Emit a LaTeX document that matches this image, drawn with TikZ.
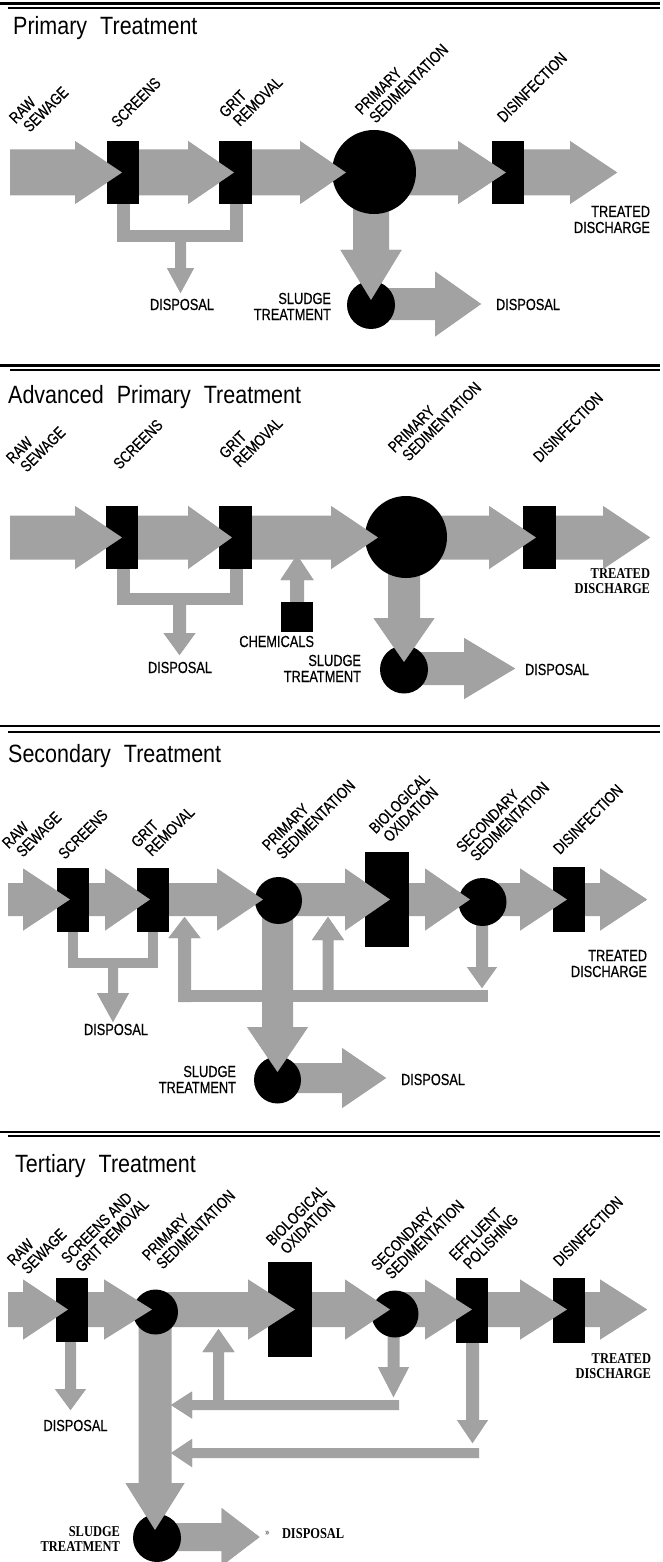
\documentclass[tikz,border=0pt]{standalone}
\usepackage{fontspec}
\setmainfont{Liberation Sans}
\newfontfamily\labf[FakeStretch=0.8,FakeBold=0.5]{Liberation Sans}
\newfontfamily\ttlf[FakeStretch=0.86]{Liberation Sans}
\newfontfamily\serf[FakeStretch=0.83]{Liberation Serif}
\pgfdeclarelayer{bg}
\pgfdeclarelayer{back}
\pgfdeclarelayer{front}
\pgfsetlayers{bg,back,main,front}
\definecolor{flowgray}{RGB}{162,162,162}
\tikzset{
  blk/.style={fill=black, draw=none, inner sep=0pt, outer sep=0pt, rectangle},
  tank/.style={fill=black, draw=none, circle, inner sep=0pt, outer sep=0pt},
  flow/.style={fill=flowgray, draw=none},
  lab/.style={font=\labf\fontsize{16}{16}\selectfont, inner sep=0pt, outer sep=0pt},
  rlab/.style={lab, rotate=45, anchor=base west},
  rlabtwo/.style={lab, rotate=45, anchor=south west, align=left},
  serlab/.style={font=\serf\bfseries\fontsize{15}{15}\selectfont, inner sep=0pt, outer sep=0pt},
  ttl/.style={font=\ttlf\fontsize{25}{25}\selectfont, anchor=base west, inner sep=0pt},
  septhick/.style={line width=2.6pt},
  septhin/.style={line width=1.2pt},
}
% horizontal fat arrow: x0, head base, tip, yc, shaft half, head half
\newcommand\fatH[6]{%
  \begin{pgfonlayer}{back}
  \fill[flow] (#1,#4-#5) -- (#2,#4-#5) -- (#2,#4-#6) -- (#3,#4) -- (#2,#4+#6) -- (#2,#4+#5) -- (#1,#4+#5) -- cycle;
  \end{pgfonlayer}
  \begin{pgfonlayer}{front}
  \fill[flow] (#2,#4-#6) -- (#3,#4) -- (#2,#4+#6) -- cycle;
  \end{pgfonlayer}}
% vertical fat arrow: y0, head base, tip, xc, shaft half, head half
\newcommand\fatV[6]{%
  \begin{pgfonlayer}{back}
  \fill[flow] (#4-#5,#1) -- (#4-#5,#2) -- (#4-#6,#2) -- (#4,#3) -- (#4+#6,#2) -- (#4+#5,#2) -- (#4+#5,#1) -- cycle;
  \end{pgfonlayer}
  \begin{pgfonlayer}{front}
  \fill[flow] (#4-#6,#2) -- (#4,#3) -- (#4+#6,#2) -- cycle;
  \end{pgfonlayer}}
\newcommand\flowpipe[4]{%
  \begin{pgfonlayer}{back}
  \fill[flow] (#1,#2) rectangle (#3,#4);
  \end{pgfonlayer}}
\newcommand\rone[4]{\node[rlab] (#1) at (#2,#3) {#4};}
% two-line rotated label; (x,y) = start of the lower line's baseline
\newcommand\rtwo[5]{%
  \node[rlabtwo] (#1) at ({#2-2.8},{#3+2.8}) {#4\\\hspace*{4pt}#5};}
\begin{document}
\begin{tikzpicture}[x=1pt,y=-1pt]
\useasboundingbox (0,0) rectangle (662,1562);
\begin{pgfonlayer}{bg}
\fill[white] (0,0) rectangle (662,1562);
\end{pgfonlayer}

% ---------- separators ----------
\draw[septhick] (0,3.5) -- (660,3.5);
\draw[septhin] (8,8) -- (660,8);
\draw[septhick] (0,365.5) -- (660,365.5);
\draw[septhin] (10,370) -- (660,370);
\draw[septhick] (0,726) -- (660,726);
\draw[septhin] (8,732) -- (660,732);
\draw[septhick] (0,1132) -- (660,1132);
\draw[septhin] (8,1136) -- (660,1136);

% ================= Section 1: Primary =================
\node[ttl] (t1) at (13,35) {Primary\hspace{13pt}Treatment};
\node[blk, minimum width=32pt, minimum height=63pt] (scr1) at (123,172.5) {};
\node[blk, minimum width=33pt, minimum height=63pt] (grt1) at (235.5,172.5) {};
\node[tank, minimum size=84pt] (psd1) at (374,172) {};
\node[blk, minimum width=32pt, minimum height=63pt] (dis1) at (508,172.5) {};
\node[tank, minimum size=48pt] (slg1) at (371,305) {};
\fatH{10}{75}{122}{172.5}{23}{31.5}
\fatH{123}{188}{234}{172.5}{23}{31.5}
\fatH{235}{300}{346}{172.5}{23}{31.5}
\fatH{374}{458}{506}{172.5}{23}{31.5}
\fatH{508}{570}{617}{172.5}{23}{31.5}
\flowpipe{117}{172}{130}{242}
\flowpipe{230}{172}{243}{242}
\flowpipe{117}{230}{243}{242}
\fatV{236}{268}{293}{180.5}{5.5}{13.5}
\fatV{172}{250}{300}{371}{18}{30.5}
\fatH{371}{435}{481}{304}{16}{32.5}
\node[lab, anchor=base] (d1a) at (182,310) {DISPOSAL};
\node[lab, anchor=base west] (d1b) at (496,310) {DISPOSAL};
\node[lab, anchor=base east, align=right] (sl1) at (331,320) {SLUDGE\\TREATMENT};
\node[lab, anchor=base east, align=right] (tr1) at (650,233) {TREATED\\DISCHARGE};
\rtwo{raw1}{30}{133}{RAW}{SEWAGE}
\rone{scrl1}{118}{128}{SCREENS}
\rtwo{grl1}{240}{127}{GRIT}{REMOVAL}
\rtwo{psl1}{376}{124}{PRIMARY}{SEDIMENTATION}
\rone{disl1}{504}{123}{DISINFECTION}

% ================= Section 2: Advanced Primary =================
\node[ttl] (t2) at (8,403) {Advanced\hspace{13pt}Primary\hspace{13pt}Treatment};
\node[blk, minimum width=32pt, minimum height=63pt] (scr2) at (122,537.5) {};
\node[blk, minimum width=33pt, minimum height=63pt] (grt2) at (235,537.5) {};
\node[tank, minimum size=82pt] (psd2) at (406,537) {};
\node[blk, minimum width=33pt, minimum height=63pt] (dis2) at (539.5,537.5) {};
\node[blk, minimum width=32pt, minimum height=30pt] (chm2) at (297,617) {};
\node[tank, minimum size=48pt] (slg2) at (404,669.5) {};
\fatH{10}{75}{122}{537.5}{22}{31.5}
\fatH{122}{188}{232}{537.5}{22}{31.5}
\fatH{235}{331}{378}{537.5}{22}{31.5}
\fatH{406}{489}{536}{537.5}{22}{31.5}
\fatH{539.5}{603}{650}{537.5}{22}{31.5}
\flowpipe{117}{537}{130}{605}
\flowpipe{230}{537}{243}{605}
\flowpipe{117}{593}{243}{605}
\fatV{599}{633}{655}{179.5}{6.5}{16}
\fatV{617}{580}{555}{297}{7}{16.5}
\fatV{537}{618}{662}{404}{16}{30.5}
\fatH{404}{464}{515}{668.5}{16.5}{30.5}
\node[lab, anchor=base] (d2a) at (180,673) {DISPOSAL};
\node[lab, anchor=base west] (d2b) at (525,675) {DISPOSAL};
\node[lab, anchor=base east] (ch2) at (314,647) {CHEMICALS};
\node[lab, anchor=base east, align=right] (sl2) at (361,682) {SLUDGE\\TREATMENT};
\node[serlab, anchor=base east, align=right] (tr2) at (650,593) {TREATED\\DISCHARGE};
\rtwo{raw2}{27}{473}{RAW}{SEWAGE}
\rone{scrl2}{120}{470}{SCREENS}
\rtwo{grl2}{240}{468}{GRIT}{REMOVAL}
\rtwo{psl2}{409}{462}{PRIMARY}{SEDIMENTATION}
\rone{disl2}{540}{463}{DISINFECTION}

% ================= Section 3: Secondary =================
\node[ttl] (t3) at (8,762) {Secondary\hspace{13pt}Treatment};
\node[blk, minimum width=32pt, minimum height=64pt] (scr3) at (73,899.5) {};
\node[blk, minimum width=32pt, minimum height=64pt] (grt3) at (152.5,899.5) {};
\node[tank, minimum size=47pt] (psd3) at (278.5,900.5) {};
\node[blk, minimum width=44pt, minimum height=95pt] (bio3) at (387,899.5) {};
\node[tank, minimum size=48pt] (ssd3) at (482.5,902) {};
\node[blk, minimum width=32pt, minimum height=65pt] (dis3) at (569,899.5) {};
\node[tank, minimum size=47pt] (slg3) at (277.5,1080) {};
\fatH{8}{23}{70}{899.5}{16.5}{31}
\fatH{73}{105}{150}{899.5}{16.5}{31}
\fatH{152.5}{217}{263}{899.5}{16.5}{31}
\fatH{278.5}{345}{390}{899.5}{16.5}{31}
\fatH{387}{425}{470}{899.5}{16.5}{31}
\fatH{482.5}{520}{567}{899.5}{16.5}{31}
\fatH{569}{600}{647}{899.5}{16.5}{31}
\flowpipe{68}{899}{78}{968}
\flowpipe{148}{899}{158}{968}
\flowpipe{68}{958}{158}{968}
\fatV{963}{993}{1022}{113}{5}{16}
\fatV{902}{967}{988}{482}{6}{15}
\flowpipe{178}{990}{488}{1002}
\fatV{1002}{938}{917}{184.5}{6.5}{16}
\fatV{996}{940}{917}{328}{5.5}{16}
\fatV{900}{1027}{1072}{277.5}{15.5}{30.5}
\fatH{277.5}{342}{386}{1078}{15}{30}
\node[lab, anchor=base] (d3a) at (116,1035) {DISPOSAL};
\node[lab, anchor=base west] (d3b) at (401,1085) {DISPOSAL};
\node[lab, anchor=base east, align=right] (sl3) at (236,1093) {SLUDGE\\TREATMENT};
\node[lab, anchor=base east, align=right] (tr3) at (647,977) {TREATED\\DISCHARGE};
\rtwo{raw3}{23}{858}{RAW}{SEWAGE}
\rone{scrl3}{65}{860}{SCREENS}
\rtwo{grl3}{152}{857}{GRIT}{REMOVAL}
\rtwo{psl3}{283}{860}{PRIMARY}{SEDIMENTATION}
\rtwo{bil3}{390}{843}{BIOLOGICAL}{OXIDATION}
\rtwo{ssl3}{477}{862}{SECONDARY}{SEDIMENTATION}
\rone{disl3}{560}{855}{DISINFECTION}

% ================= Section 4: Tertiary =================
\node[ttl] (t4) at (15,1172) {Tertiary\hspace{13pt}Treatment};
\node[blk, minimum width=32pt, minimum height=64pt] (sg4) at (72,1310) {};
\node[tank, minimum size=45pt] (psd4) at (155.5,1312) {};
\node[blk, minimum width=44pt, minimum height=95pt] (bio4) at (290,1309.5) {};
\node[tank, minimum size=47pt] (ssd4) at (395,1314) {};
\node[blk, minimum width=32pt, minimum height=65pt] (eff4) at (472,1310.5) {};
\node[blk, minimum width=32pt, minimum height=65pt] (dis4) at (569,1310.5) {};
\node[tank, minimum size=48pt] (slg4) at (157,1538) {};
\fatH{8}{23}{68}{1309.5}{17.5}{30}
\fatH{72}{104}{152}{1309.5}{17.5}{30}
\fatH{155.5}{248}{295}{1309.5}{17.5}{30}
\fatH{290}{345}{390}{1309.5}{17.5}{30}
\fatH{395}{425}{472}{1309.5}{17.5}{30}
\fatH{472}{520}{567}{1309.5}{17.5}{30}
\fatH{569}{600}{647}{1309.5}{17.5}{30}
\fatV{1310}{1389}{1410}{70.5}{5.5}{15.5}
\fatV{1312}{1483}{1530}{155}{16.5}{29.5}
\fatH{157}{221.5}{259.5}{1537}{14}{29}
\fatV{1314}{1367}{1397}{393.5}{6}{15.5}
\fatH{399}{192}{171}{1405}{5}{13.5}
\fatV{1405}{1352}{1329}{218.5}{5.5}{16}
\fatV{1310}{1420}{1443}{472.5}{6.5}{15.5}
\fatH{479}{192}{171}{1453}{5}{14}
\node[lab, anchor=base] (d4a) at (75.5,1431) {DISPOSAL};
\node[font=\labf\fontsize{9}{9}\selectfont, text=gray, anchor=base west, inner sep=0pt] (dmk4) at (265,1535) {»};
\node[serlab, anchor=base west] (d4b) at (282,1538) {DISPOSAL};
\node[serlab, anchor=base east, align=right] (sl4) at (120,1551) {SLUDGE\\TREATMENT};
\node[serlab, anchor=base east, align=right] (tr4) at (651,1378) {TREATED\\DISCHARGE};
\rtwo{raw4}{28}{1275}{RAW}{SEWAGE}
\rtwo{sgl4}{82}{1273}{SCREENS AND}{GRIT REMOVAL}
\rtwo{psl4}{163}{1270}{PRIMARY}{SEDIMENTATION}
\rtwo{bil4}{287}{1255}{BIOLOGICAL}{OXIDATION}
\rtwo{ssl4}{392}{1280}{SECONDARY}{SEDIMENTATION}
\rtwo{efl4}{470}{1270}{EFFLUENT}{POLISHING}
\rone{disl4}{560}{1267}{DISINFECTION}
\end{tikzpicture}
\end{document}
